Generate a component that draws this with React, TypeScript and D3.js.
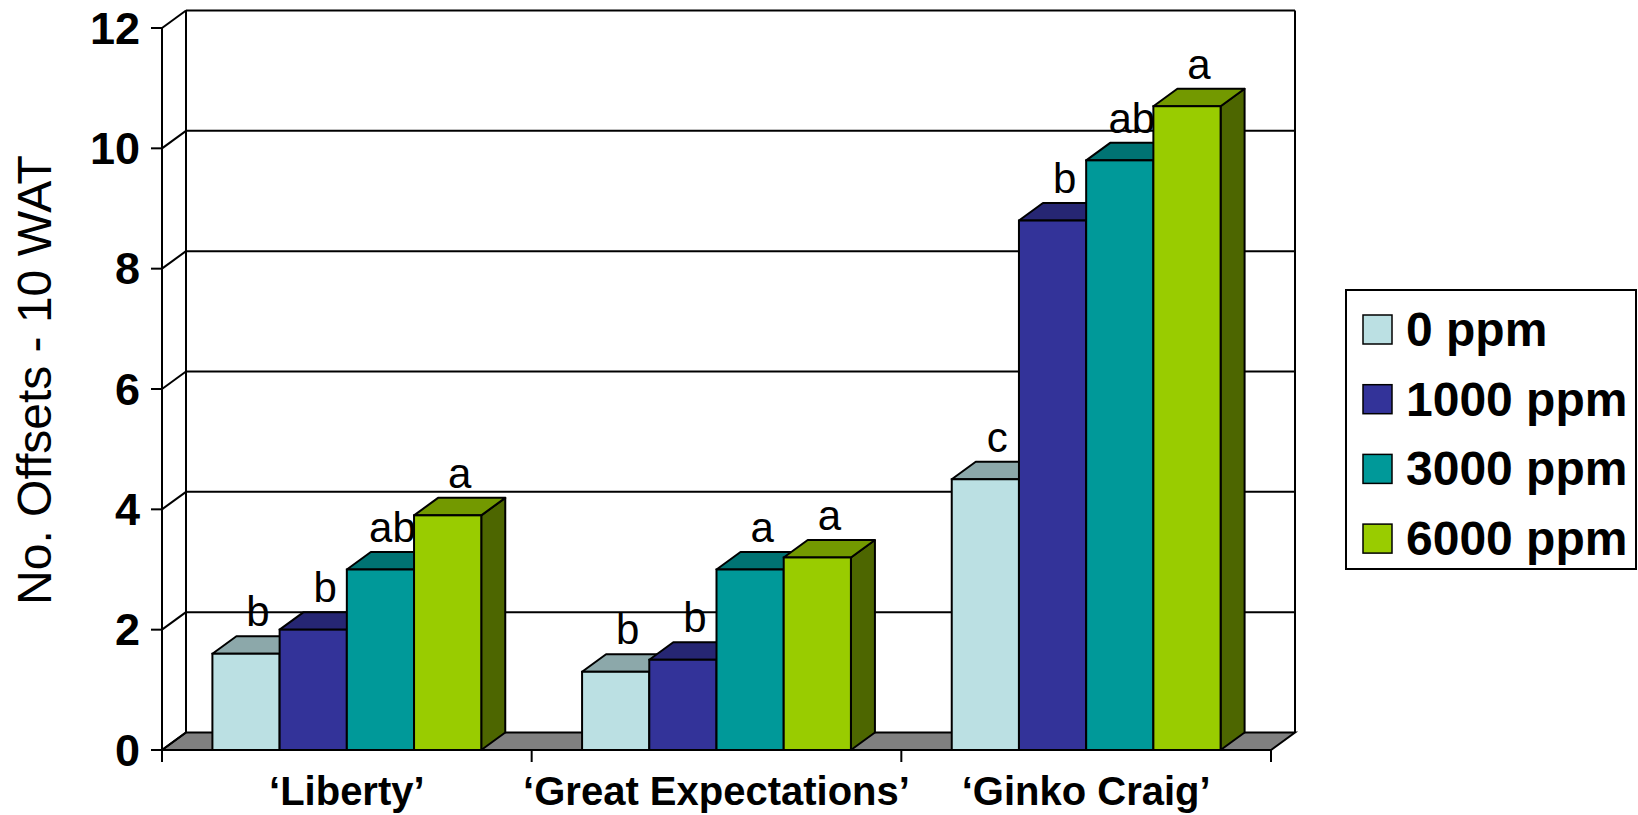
import * as d3 from "d3";

const categories = ["\u2018Liberty\u2019", "\u2018Great Expectations\u2019", "\u2018Ginko Craig\u2019"];
const seriesNames = ["0 ppm", "1000 ppm", "3000 ppm", "6000 ppm"];
const ppm0 = [1.6, 1.3, 4.5];
const ppm1000 = [2.0, 1.5, 8.8];
const ppm3000 = [3.0, 3.0, 9.8];
const ppm6000 = [3.9, 3.2, 10.7];
const letters0 = ["b", "b", "c"];
const letters1000 = ["b", "b", "b"];
const letters3000 = ["ab", "a", "ab"];
const letters6000 = ["a", "a", "a"];
const yTicks = [0, 2, 4, 6, 8, 10, 12];
const colors = ["#BBE0E3", "#333399", "#009999", "#99CC00"];

const values = [ppm0, ppm1000, ppm3000, ppm6000];
const letters = [letters0, letters1000, letters3000, letters6000];

const W = 1638;
const H = 815;
const DX = 24;
const DY = -17.5;
const FONT = "'Liberation Sans', Arial, sans-serif";

const shade = (c: string, k: number) => {
  const r = d3.rgb(c);
  return d3.rgb(r.r * k, r.g * k, r.b * k).formatHex();
};

const App = () => {
  const x = d3.scaleBand().domain(categories).range([162, 1271]);
  const xs = d3
    .scaleBand()
    .domain(seriesNames)
    .range([0, x.bandwidth()])
    .paddingInner(0)
    .paddingOuter(0.75);
  const y = d3.scaleLinear().domain([0, 12]).range([750, 28]);

  const x0 = 162;
  const x1 = 1271;
  const y0 = y(0);
  const yTop = y(12);
  const bw = xs.bandwidth();

  const pts = (arr: number[][]) => arr.map((p) => p.join(",")).join(" ");

  return (
    <svg
      width={W}
      height={H}
      style={{ position: "absolute", left: 0, top: 0, background: "white" }}
      fontFamily={FONT}
    >
      {/* floor */}
      <polygon
        points={pts([
          [x0, y0],
          [x1, y0],
          [x1 + DX, y0 + DY],
          [x0 + DX, y0 + DY],
        ])}
        fill="#808080"
        stroke="#000"
        strokeWidth={2}
      />
      {/* back wall gridlines */}
      {yTicks
        .filter((t) => t > 0)
        .map((t) => (
          <line
            key={"g" + t}
            x1={x0 + DX}
            x2={x1 + DX}
            y1={y(t) + DY}
            y2={y(t) + DY}
            stroke="#000"
            strokeWidth={2}
          />
        ))}
      {/* left wall diagonals */}
      {yTicks.map((t) => (
        <line
          key={"d" + t}
          x1={x0}
          x2={x0 + DX}
          y1={y(t)}
          y2={y(t) + DY}
          stroke="#000"
          strokeWidth={2}
        />
      ))}
      <line x1={x0 + DX} x2={x0 + DX} y1={yTop + DY} y2={y0 + DY} stroke="#000" strokeWidth={2} />
      <line x1={x1 + DX} x2={x1 + DX} y1={yTop + DY} y2={y0 + DY} stroke="#000" strokeWidth={2} />
      <line x1={x0} x2={x0} y1={yTop} y2={y0 + 12} stroke="#000" strokeWidth={2} />
      <line x1={x0} x2={x1} y1={y0} y2={y0} stroke="#000" strokeWidth={2} />

      {/* y ticks and labels */}
      {yTicks.map((t) => (
        <g key={"t" + t}>
          <line x1={x0 - 11} x2={x0} y1={y(t)} y2={y(t)} stroke="#000" strokeWidth={2} />
          <text
            x={140}
            y={y(t)}
            textAnchor="end"
            dominantBaseline="central"
            fontSize={45}
            fontWeight="bold"
          >
            {t}
          </text>
        </g>
      ))}

      {/* x ticks */}
      {[...categories.map((c) => x(c) as number), x1].map((v, i) => (
        <line key={"xt" + i} x1={v} x2={v} y1={y0} y2={y0 + 12} stroke="#000" strokeWidth={2} />
      ))}

      {/* bars */}
      {categories.map((c, ci) => (
        <g key={"c" + ci}>
          {seriesNames.map((s, si) => {
            const v = values[si][ci];
            const bx = (x(c) as number) + (xs(s) as number);
            const by = y(v);
            const col = colors[si];
            return (
              <g key={s}>
                <polygon
                  points={pts([
                    [bx + bw, by],
                    [bx + bw + DX, by + DY],
                    [bx + bw + DX, y0 + DY],
                    [bx + bw, y0],
                  ])}
                  fill={shade(col, 0.5)}
                  stroke="#000"
                  strokeWidth={2}
                  strokeLinejoin="round"
                />
                <polygon
                  points={pts([
                    [bx, by],
                    [bx + bw, by],
                    [bx + bw + DX, by + DY],
                    [bx + DX, by + DY],
                  ])}
                  fill={shade(col, 0.75)}
                  stroke="#000"
                  strokeWidth={2}
                  strokeLinejoin="round"
                />
                <rect x={bx} y={by} width={bw} height={y0 - by} fill={col} stroke="#000" strokeWidth={2} />
              </g>
            );
          })}
        </g>
      ))}

      {/* significance letters */}
      {categories.map((c, ci) =>
        seriesNames.map((s, si) => {
          const v = values[si][ci];
          const bx = (x(c) as number) + (xs(s) as number);
          return (
            <text
              key={"l" + ci + si}
              x={bx + bw / 2 + DX / 2}
              y={y(v) + DY - 10}
              textAnchor="middle"
              fontSize={42}
            >
              {letters[si][ci]}
            </text>
          );
        })
      )}

      {/* category labels */}
      {categories.map((c) => (
        <text
          key={c}
          x={(x(c) as number) + x.bandwidth() / 2}
          y={805}
          textAnchor="middle"
          fontSize={40}
          fontWeight="bold"
        >
          {c}
        </text>
      ))}

      {/* y axis title */}
      <text
        transform={`translate(51, 380) rotate(-90)`}
        textAnchor="middle"
        fontSize={48}
      >
        No. Offsets - 10 WAT
      </text>

      {/* legend */}
      <rect x={1346} y={290} width={290} height={279} fill="#fff" stroke="#000" strokeWidth={2} />
      {seriesNames.map((s, i) => {
        const cy = 329.5 + i * 69.7;
        return (
          <g key={"lg" + s}>
            <rect x={1363} y={cy - 14.5} width={29} height={29} fill={colors[i]} stroke="#000" strokeWidth={1.5} />
            <text x={1406} y={cy} dominantBaseline="central" fontSize={48} fontWeight="bold">
              {s}
            </text>
          </g>
        );
      })}
    </svg>
  );
};

export default App;
